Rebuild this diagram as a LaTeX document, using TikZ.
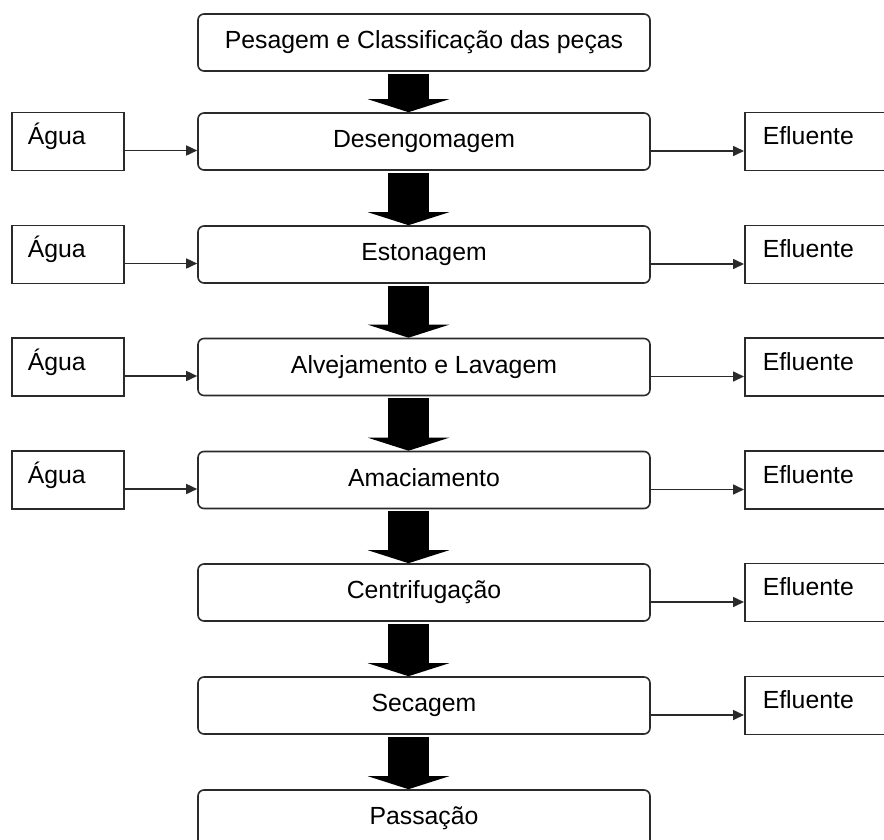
\documentclass[tikz,border=0pt]{standalone}
\usepackage{fontspec}
\setmainfont{Liberation Sans}
\usetikzlibrary{arrows.meta}
\definecolor{edge}{HTML}{2A2A2A}
\begin{document}
\begin{tikzpicture}[x=1pt,y=-1pt,
  txt/.style={font=\fontsize{24.8pt}{28pt}\selectfont},
  proc/.style={txt, draw=edge, line width=1.6pt, rounded corners=6pt,
    minimum width=452pt, minimum height=57pt, inner sep=0pt,
    text height=18pt, text depth=6pt},
  side/.style={txt, draw=edge, line width=1.6pt, minimum height=58pt,
    inner ysep=0pt, text height=18pt, text depth=12pt, align=left, anchor=west},
  inbox/.style={side, text width=80pt, inner xsep=16pt},
  outbox/.style={side, text width=120pt, inner xsep=18pt},
  flow/.style={line width=41pt, black, shorten <=2pt,
    -{Triangle[length=13pt,width=81pt]}},
  thin/.style={edge, line width=1.6pt, -{Triangle[length=11pt,width=10pt]}}
]
\useasboundingbox (0,0) rectangle (884,839);
\clip (0,0) rectangle (884,839);

\node[proc] (m0) at (424,42.5) {Pesagem e Classificação das peças};
\node[proc] (m1) at (424,141.5) {Desengomagem};
\node[proc] (m2) at (424,254.5) {Estonagem};
\node[proc] (m3) at (424,367) {Alvejamento e Lavagem};
\node[proc] (m4) at (424,480) {Amaciamento};
\node[proc] (m5) at (424,592.5) {Centrifugação};
\node[proc] (m6) at (424,705.5) {Secagem};
\node[proc] (m7) at (424,818.5) {Passação};

\foreach \i/\y in {1/141.5,2/254.5,3/367,4/480}{
  \node[inbox] (a\i) at (11,\y) {Água};
}
\foreach \i/\y in {1/141.5,2/254.5,3/367,4/480,5/592.5,6/705.5}{
  \node[outbox] (e\i) at (744,\y) {Efluente};
}

\foreach \i [evaluate=\i as \j using int(\i+1)] in {0,...,6}{
  \draw[flow] ([xshift=-15.5pt]m\i.south) -- ([xshift=-15.5pt]m\j.north);
}
\foreach \i in {1,...,4}{
  \draw[thin] ([yshift=-9pt]a\i.east) -- ([yshift=-9pt]a\i.east -| m\i.west);
}
\foreach \i in {1,...,6}{
  \draw[thin] ([yshift=-9.5pt]m\i.east) -- ([yshift=-9.5pt]m\i.east -| e\i.west);
}
\end{tikzpicture}
\end{document}
